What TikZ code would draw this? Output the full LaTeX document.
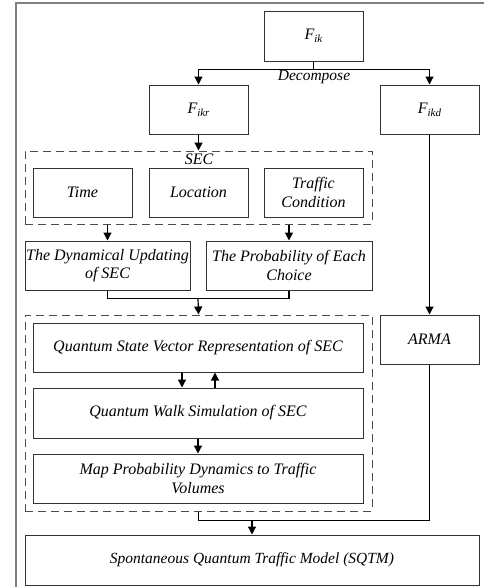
\documentclass[tikz,border=0pt]{standalone}
\usepackage{fontspec}
\setmainfont{Liberation Serif}
\usetikzlibrary{arrows.meta,calc}

\newcommand{\lowsub}[1]{\raisebox{-.45ex}{\fontsize{11}{12}\selectfont #1}}

\tikzset{
  blk/.style 2 args={draw=black!80, line width=1pt, inner sep=0pt,
    minimum width=#1, minimum height=#2, align=center,
    font=\fontsize{16}{18.5}\selectfont\itshape},
  dashbox/.style 2 args={draw=black!70, line width=1pt, dash pattern=on 8pt off 5pt,
    inner sep=0pt, minimum width=#1, minimum height=#2},
  arr/.style={line width=1.2pt, -{Triangle[length=8pt,width=8pt]}},
  wire/.style={line width=1.2pt},
}

\begin{document}
\begin{tikzpicture}[x=1pt,y=-1pt]
  \useasboundingbox (0,0) rectangle (484,587);
  % outer frame
  \draw[black!50, line width=1.6pt] (484,3) -- (16,3) -- (16,587);

  % decomposition
  \node[blk={99}{50}] (Fik)  at (313.5,36)  {F\lowsub{ik}};
  \node[blk={99}{49}] (Fikr) at (198.5,109.5) {F\lowsub{ikr}};
  \node[blk={99}{49}] (Fikd) at (429.5,109.5) {F\lowsub{ikd}};
  \draw[wire] (Fik.south) -- ++(0,8) coordinate (split);
  \draw[arr] (split) -| (Fikr.north);
  \draw[arr] (split) -| (Fikd.north);
  \node[font=\fontsize{15.5}{18}\selectfont\itshape] (dec) at (314,77) {Decompose};

  % SEC
  \node[dashbox={347}{73}] (sec) at (198.5,187.5) {};
  \node[font=\fontsize{16}{18}\selectfont\itshape] (seclab) at (199,159) {SEC};
  \foreach \nm/\cx/\txt in {time/82.5/Time, loc/198.5/Location, traf/313.5/Traffic\\Condition}{%
    \node[blk={99}{49}] (\nm) at (\cx,192.5) {\txt};
  }
  \draw[arr] (Fikr) -- (sec);

  \node[blk={165}{49}] (dyn)  at (107.5,265.5) {The Dynamical Updating\\of SEC};
  \node[blk={166}{49}] (prob) at (289,265.5)   {The Probability of Each\\Choice};
  \draw[arr] (sec.south -| dyn) -- (dyn);
  \draw[arr] (sec.south -| prob) -- (prob);

  % quantum part
  \node[dashbox={347}{196}] (qbox) at (198.5,413) {};
  \node[blk={330}{49}] (qsv) at (198,347.5) {Quantum State Vector Representation of SEC};
  \node[blk={330}{50}] (qws) at (198,413)   {Quantum Walk Simulation of SEC};
  \node[blk={330}{49}] (map) at (198,478.5) {Map Probability Dynamics to Traffic\\Volumes};
  \draw[wire] (dyn.south) -- ++(0,8) -| (prob.south);
  \coordinate (join) at ($(dyn.south)+(90.5,8)$);
  \draw[arr] (join) -- (qbox.north);
  \draw[arr] ([xshift=-16pt]qsv.south) -- ([xshift=-16pt]qws.north);
  \draw[arr] ([xshift=17pt]qws.north) -- ([xshift=17pt]qsv.south);
  \draw[arr] (qws) -- (map);

  % ARMA branch
  \node[blk={99}{49}] (arma) at (429.5,339.5) {ARMA};
  \draw[arr] (Fikd) -- (arma);

  % final model
  \node[blk={454}{50}, font=\fontsize{15.5}{18}\selectfont\itshape] (sqtm) at (252,560)
    {Spontaneous Quantum Traffic Model (SQTM)};
  \draw[wire] (qbox.south) -- ++(0,9) -| (arma.south);
  \coordinate (merge) at ($(qbox.south)+(53.5,9)$);
  \draw[arr] (merge) -- (sqtm.north);
\end{tikzpicture}
\end{document}
